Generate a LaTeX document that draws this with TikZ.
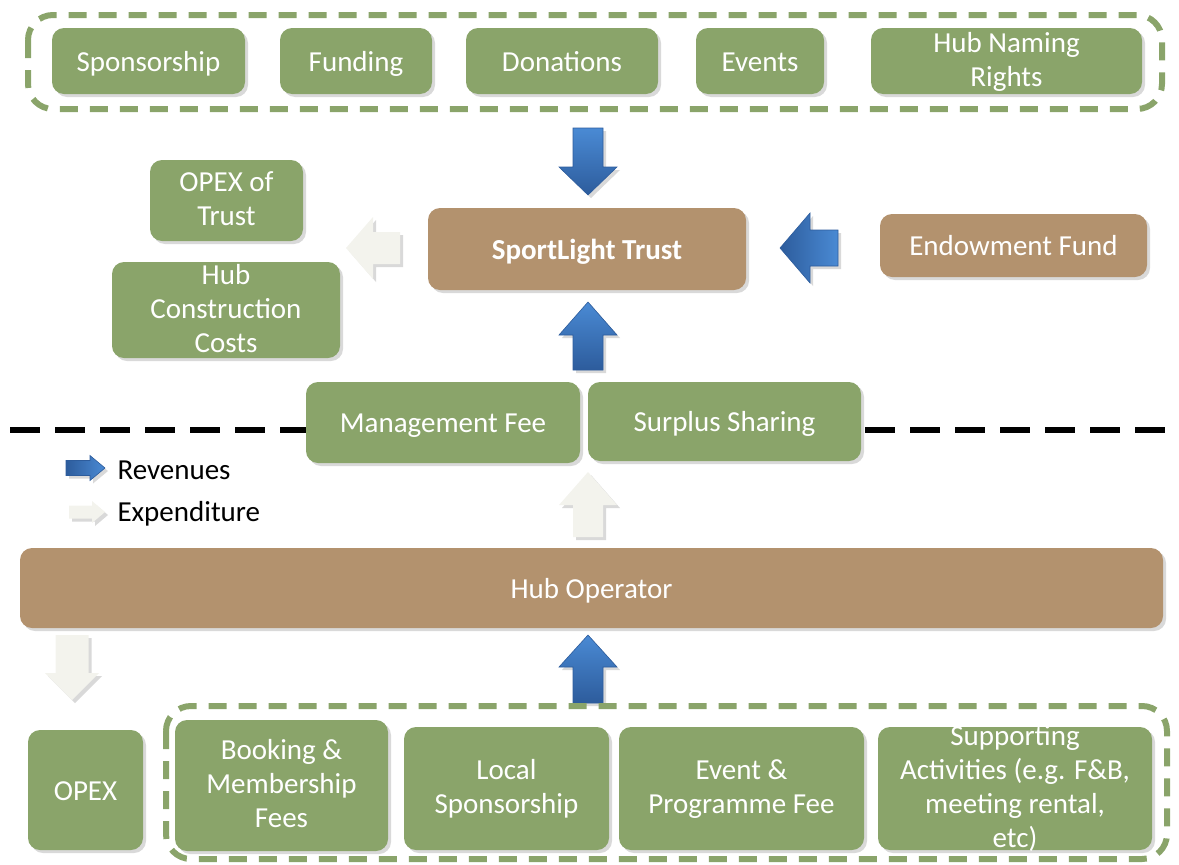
\documentclass[tikz,border=0pt]{standalone}
\usepackage{fontspec}
\setmainfont{Carlito}
\usetikzlibrary{shadows}
\definecolor{boxgreen}{HTML}{8AA46A}
\definecolor{boxbrown}{HTML}{B3926E}
\definecolor{arrblueL}{HTML}{4A8AD4}
\definecolor{arrblueD}{HTML}{2D5C9C}
\definecolor{arrwhite}{HTML}{F3F3ED}
\newcommand\VArrow[7]{%
\path[#1] (#2-#6,#3) -- (#2+#6,#3) -- (#2+#6,#4) -- (#2+#7,#4) -- (#2,#5) -- (#2-#7,#4) -- (#2-#6,#4) -- cycle;}
\newcommand\HArrow[7]{%
\path[#1] (#3,#2-#6) -- (#3,#2+#6) -- (#4,#2+#6) -- (#4,#2+#7) -- (#5,#2) -- (#4,#2-#7) -- (#4,#2-#6) -- cycle;}
\begin{document}
\begin{tikzpicture}[x=1pt,y=-1pt,
  shade/.style={drop shadow={shadow xshift=3pt,shadow yshift=-3pt,opacity=0.3}},
  lbl/.style={text=white, align=center, font=\fontsize{29}{34}\selectfont, yshift=-3.5pt,
    execute at begin node=\strut, execute at end node=\strut},
  txt/.style={label={[lbl]center:{#1}}},
  btxt/.style={label={[lbl, font=\fontsize{29}{34}\selectfont\bfseries]center:{#1}}},
  base/.style={rounded corners=12pt, inner sep=0pt, shade},
  gbox/.style={base, fill=boxgreen},
  bbox/.style={base, fill=boxbrown},
  dashbox/.style={draw=boxgreen, line width=6pt, rounded corners=25pt, dash pattern=on 18pt off 12pt},
  bluev/.style={top color=arrblueL, bottom color=arrblueD, draw=arrblueD, line width=0.6pt, shade},
  blueh/.style={left color=arrblueD, right color=arrblueL, draw=arrblueD, line width=0.6pt, shade},
  whitea/.style={fill=arrwhite, shade},
  legtext/.style={anchor=west, text=black, font=\fontsize{29}{34}\selectfont}]
\useasboundingbox (0,0) rectangle (1179,865);

% top group
\draw[dashbox] (28,15) rectangle (1162,109);
\node[gbox, minimum width=193pt, minimum height=66pt, txt={Sponsorship}] (spons) at (148.5,61) {};
\node[gbox, minimum width=152pt, minimum height=66pt, txt={Funding}] (fund) at (356,61) {};
\node[gbox, minimum width=192pt, minimum height=66pt, txt={Donations}] (don) at (562,61) {};
\node[gbox, minimum width=128pt, minimum height=66pt, txt={Events}] (ev) at (760,61) {};
\node[gbox, minimum width=271pt, minimum height=66pt, txt={Hub Naming\\Rights}] (naming) at (1006.5,61) {};

% trust level
\node[bbox, minimum width=318pt, minimum height=82pt, btxt={SportLight Trust}] (trust) at (587,249) {};
\node[bbox, minimum width=267pt, minimum height=63pt, txt={Endowment Fund}] (endow) at (1013.5,245.5) {};
\node[gbox, minimum width=153pt, minimum height=81pt, txt={OPEX of\\Trust}] (opextrust) at (226.5,200.5) {};
\node[gbox, minimum width=228pt, minimum height=96pt, txt={Hub\\Construction\\Costs}] (constr) at (226,310) {};

\VArrow{bluev}{588}{128}{167}{195}{15}{29}
\VArrow{bluev}{588}{370}{335}{302}{15}{29}
\HArrow{blueh}{248}{838}{810}{780}{18}{35}
\HArrow{whitea}{248}{400}{373}{346}{16}{31}

% divider
\draw[line width=6pt, dash pattern=on 30pt off 15pt] (10,430) -- (1165,430);
\node[gbox, minimum width=274pt, minimum height=81pt, txt={Management Fee}] (mfee) at (443,422.5) {};
\node[gbox, minimum width=273pt, minimum height=79pt, txt={Surplus Sharing}] (surplus) at (724.5,421.5) {};

% legend
\HArrow{blueh}{468}{66}{90}{105}{7.5}{12.5}
\node[legtext] (rev) at (114,470) {Revenues};
\HArrow{whitea}{512}{69}{92}{105}{6.5}{11}
\node[legtext] (exp) at (114,514) {Expenditure};

\VArrow{whitea}{588}{537}{505}{472}{15}{29}

% hub operator
\node[bbox, minimum width=1143pt, minimum height=80pt, txt={Hub Operator}] (hub) at (591.5,588) {};

\VArrow{whitea}{72}{635}{673}{700}{16.5}{27}
\VArrow{bluev}{588}{703}{667}{635}{15}{29}

% bottom group
\draw[dashbox] (166,706) rectangle (1167,859);
\node[gbox, minimum width=115pt, minimum height=120pt, txt={OPEX}] (opex) at (85.5,790) {};
\node[gbox, minimum width=213pt, minimum height=131pt, txt={Booking \&\\Membership\\Fees}] (booking) at (281.5,785.5) {};
\node[gbox, minimum width=205pt, minimum height=123pt, txt={Local\\Sponsorship}] (local) at (506.5,788.5) {};
\node[gbox, minimum width=245pt, minimum height=123pt, txt={Event \&\\Programme Fee}] (eventfee) at (741.5,788.5) {};
\node[gbox, minimum width=274pt, minimum height=123pt, txt={Supporting\\Activities (e.g. F\&B,\\meeting rental,\\etc)}] (support) at (1015,788.5) {};
\end{tikzpicture}
\end{document}
